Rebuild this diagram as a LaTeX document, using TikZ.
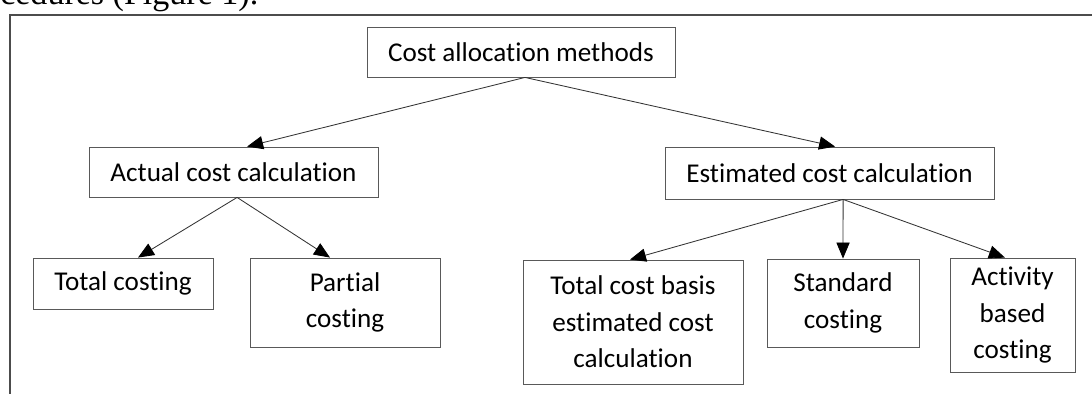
\documentclass[tikz,border=0pt]{standalone}
\usepackage{fontspec}
\setmainfont{Carlito}[Ligatures=NoCommon]
\newfontfamily\pagefont{Liberation Serif}
\usepackage{tikz}
\usetikzlibrary{arrows.meta,positioning}

\begin{document}
\begin{tikzpicture}[x=0.025cm, y=-0.025cm, >={Triangle[length=4mm,width=3.3mm,black]},
  box/.style={draw=black!65, line width=0.6pt, inner sep=0pt, align=center, font=\fontsize{19.3}{26}\selectfont},
  link/.style={->, draw=black!80, line width=0.6pt}]
  \clip (0,0) rectangle (1092,394);
  % end of the page text over the frame
  \node[anchor=base west, inner sep=0pt, font=\pagefont\fontsize{24.2}{28}\selectfont] (caption) at (0,5) {cedures (Figure 1).};
  \draw[black!70, line width=1.4pt] (1092,15) -- (10,15) -- (10,394);
  \node[box, minimum width=7.7cm, minimum height=1.25cm] (root) at (521,52) {Cost allocation methods};
  \node[box, minimum width=7.225cm, minimum height=1.25cm] (actual) at (233.5,172) {Actual cost calculation};
  \node[box, minimum width=8.225cm, minimum height=1.3cm] (estimated) at (829.5,173) {Estimated cost calculation};
  \node[box, minimum width=4.5cm, minimum height=1.275cm] (total) at (123,283.5) {Total costing};
  \node[box, minimum width=4.75cm, minimum height=2.225cm] (partial) at (345,302.5) {Partial\\costing};
  \node[box, minimum width=5.5cm, minimum height=3.1cm] (basis) at (633,322) {Total cost basis\\estimated cost\\calculation};
  \node[box, minimum width=3.8cm, minimum height=2.2cm] (standard) at (843,303) {Standard\\costing};
  \node[box, minimum width=3.125cm, minimum height=2.85cm] (activity) at (1012.5,315) {Activity\\based\\costing};
  \draw[link] ([xshift=0.1cm]root.south) -- ([xshift=0.34cm]actual.north);
  \draw[link] ([xshift=0.1cm]root.south) -- ([xshift=0.14cm]estimated.north);
  \draw[link] ([xshift=0.09cm]actual.south) -- ([xshift=0.375cm]total.north);
  \draw[link] ([xshift=0.09cm]actual.south) -- ([xshift=-0.375cm]partial.north);
  \draw[link] ([xshift=0.34cm]estimated.south) -- ([xshift=-0.075cm]basis.north);
  \draw[link] ([xshift=0.34cm]estimated.south) -- (standard.north);
  \draw[link] ([xshift=0.34cm]estimated.south) -- ([xshift=-0.19cm]activity.north);
\end{tikzpicture}
\end{document}
